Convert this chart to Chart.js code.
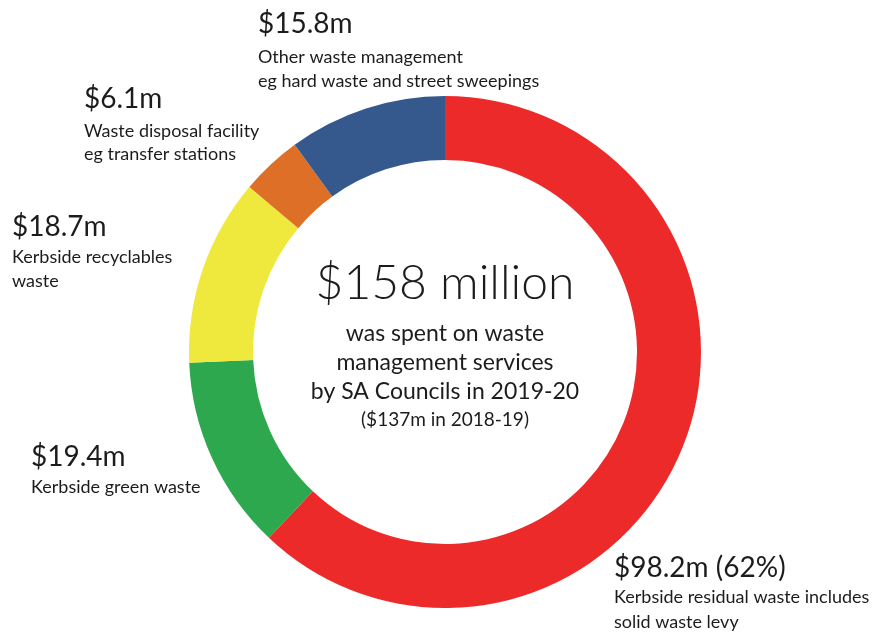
<!DOCTYPE html>
<html>
<head>
<meta charset="utf-8">
<script src="https://cdn.jsdelivr.net/npm/chart.js@4"></script>
<style>
  html, body { margin: 0; padding: 0; background: #ffffff; }
  #wrap { width: 874px; height: 637px; position: relative; }
</style>
</head>
<body>
<div id="wrap"><canvas id="chart" width="874" height="637"></canvas></div>
<script>
// Council waste management spending, 2019-20 ($ million)
const categories = [
  'Kerbside residual waste',
  'Kerbside green waste',
  'Kerbside recyclables waste',
  'Waste disposal facility',
  'Other waste management'
];
const values = [98.2, 19.4, 18.7, 6.1, 15.8];
const descriptions = [
  ['Kerbside residual waste includes', 'solid waste levy'],
  ['Kerbside green waste'],
  ['Kerbside recyclables', 'waste'],
  ['Waste disposal facility', 'eg transfer stations'],
  ['Other waste management', 'eg hard waste and street sweepings']
];
const colors = ['#ED2A2A', '#2EA84E', '#EFE93D', '#DE6F27', '#36598D'];
const previousYear = { label: '2018-19', total: 137 };
const currentYear = '2019-20';

const total = values.reduce((a, b) => a + b, 0);
const FONT = 'Lato, "Open Sans", sans-serif';
const TEXT = '#1c1c1c';

// Caption block for each segment: left edge, heading baseline, line gaps
const captionAnchors = [
  { x: 614, y: 577, gap: 26, lead: 25 },
  { x: 31,  y: 466, gap: 27, lead: 24 },
  { x: 12,  y: 236, gap: 27, lead: 24 },
  { x: 84,  y: 108, gap: 29, lead: 23 },
  { x: 258, y: 33,  gap: 30, lead: 24 }
];

const captionsPlugin = {
  id: 'captions',
  afterDraw(chart) {
    const ctx = chart.ctx;
    ctx.save();
    ctx.fillStyle = TEXT;
    ctx.textBaseline = 'alphabetic';
    ctx.textAlign = 'left';
    values.forEach((v, i) => {
      const a = captionAnchors[i];
      let head = '$' + v.toFixed(1) + 'm';
      if (i === 0) head += ' (' + Math.round(v / total * 100) + '%)';
      ctx.font = '28px ' + FONT;
      ctx.fillText(head, a.x, a.y);
      ctx.font = '18px ' + FONT;
      descriptions[i].forEach((line, j) => {
        ctx.fillText(line, a.x, a.y + a.gap + j * a.lead);
      });
    });

    // Centre summary
    const arc = chart.getDatasetMeta(0).data[0];
    const cx = arc.x, cy = arc.y;
    ctx.textAlign = 'center';
    ctx.font = '300 48px ' + FONT;
    ctx.fillText('$' + Math.round(total) + ' million', cx, cy - 53);
    ctx.font = '23px ' + FONT;
    ctx.fillText('was spent on waste', cx, cy - 11);
    ctx.fillText('management services', cx, cy + 18);
    ctx.fillText('by SA Councils in ' + currentYear, cx, cy + 47);
    ctx.font = '19px ' + FONT;
    ctx.fillText('($' + previousYear.total + 'm in ' + previousYear.label + ')', cx, cy + 74);
    ctx.restore();
  }
};

new Chart(document.getElementById('chart'), {
  type: 'doughnut',
  data: {
    labels: categories,
    datasets: [{
      data: values,
      backgroundColor: colors,
      borderWidth: 0
    }]
  },
  options: {
    responsive: false,
    animation: false,
    cutout: '75%',
    rotation: 0,
    layout: { padding: { left: 189, right: 173, top: 96, bottom: 29 } },
    plugins: {
      legend: { display: false },
      tooltip: { enabled: false }
    }
  },
  plugins: [captionsPlugin]
});
</script>
</body>
</html>
